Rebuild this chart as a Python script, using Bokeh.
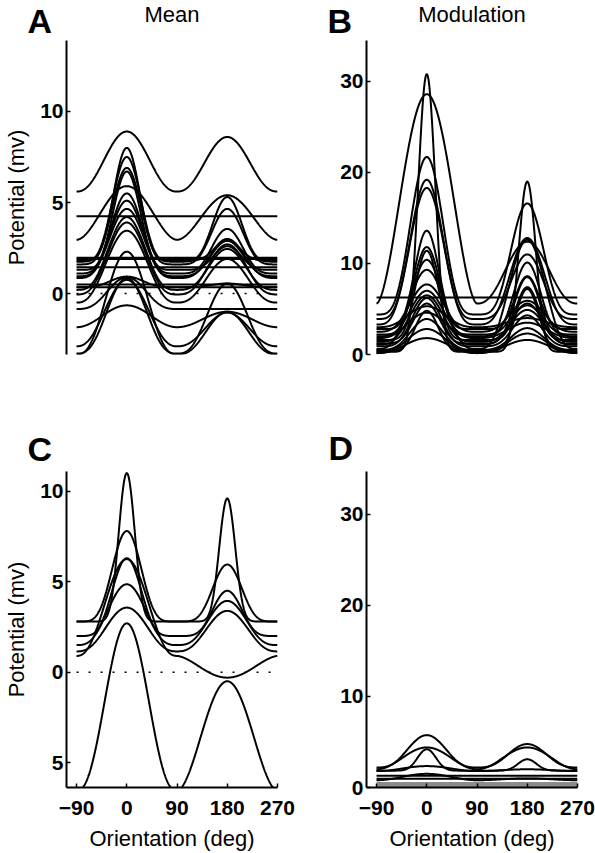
import numpy as np
from bokeh.plotting import figure
from bokeh.models import Range1d, FixedTicker
from bokeh.core.properties import value
from bokeh.layouts import column, row
from bokeh.embed import file_html
from bokeh.resources import INLINE

# ---------------- data ----------------
x_ticks = [-90, 0, 90, 180, 270]
y_ticks_mean = [-5, 0, 5, 10]
y_ticks_mod = [0, 10, 20, 30]
panel_letters = ["A", "B", "C", "D"]
panel_titles = ["Mean", "Modulation"]

# each curve: value at +-90 deg (base), peak at 0 deg, peak at 180 deg, sharpness of each peak
A_base    = [5.6, 4.25, 2.95, 1.97, 1.90, 1.80, 1.75, 1.60, 1.30, 1.10, 0.95, 0.85, 0.20, -0.05, -0.50, 1.45, 0.50, 0.35, 0.35, -0.85, -1.85, -2.90, -3.30, -3.35]
A_peak0   = [8.9, 4.25, 5.9, 1.97, 1.90, 8.0, 7.5, 6.9, 6.7, 5.5, 5.1, 4.65, 4.2, 3.9, 3.45, 1.45, 0.50, 0.35, 0.93, 0.9, -0.65, 0.75, 0.85, 2.3]
A_peak180 = [8.6, 4.25, 5.4, 1.97, 1.90, 2.9, 5.3, 4.65, 2.6, 3.55, 2.9, 3.0, 2.45, 2.7, 1.9, 1.45, 0.50, 0.35, 0.55, -0.85, -1.0, -1.05, 0.55, -1.0]
A_n0      = [1.15, 1, 0.9, 1, 1, 3.0, 2.6, 2.5, 2.8, 2.2, 2.0, 1.8, 1.6, 1.5, 1.3, 1, 1, 1, 2.0, 1.5, 1.0, 1.2, 1.4, 1.3]
A_n180    = [1.15, 1, 0.9, 1, 1, 3.0, 2.5, 2.2, 2.8, 2.2, 2.0, 1.8, 1.6, 1.5, 1.3, 1, 1, 1, 2.0, 1.0, 1.0, 1.2, 1.4, 1.3]

B_base    = [0.3, 5.6, 4.4, 3.9, 3.3, 2.8, 2.2, 1.6, 1.1, 0.6, 2.5, 2.0, 1.4, 0.9, 3.0, 1.8, 0.5, 0.2, 0.15, 6.25, 1.2, 0.4]
B_peak0   = [30.8, 28.6, 21.7, 19.2, 18.3, 13.6, 11.8, 11.4, 10.4, 9.3, 7.7, 7.0, 6.5, 6.2, 5.3, 4.6, 3.9, 2.8, 1.8, 6.25, 5.6, 4.8]
B_peak180 = [19.0, 12.4, 16.6, 11.0, 12.8, 8.6, 10.1, 7.4, 5.6, 12.6, 5.9, 5.4, 4.9, 4.3, 4.0, 3.5, 2.9, 2.3, 1.6, 6.25, 8.5, 7.2]
B_n0      = [7.0, 0.85, 2.0, 2.0, 1.8, 3.5, 3.0, 4.0, 2.2, 1.6, 1.8, 2.0, 2.0, 2.5, 1.5, 1.5, 2.0, 1.5, 1.2, 1, 3.0, 4.0]
B_n180    = [7.0, 1.2, 2.0, 2.0, 1.8, 3.5, 3.0, 4.0, 2.2, 1.6, 1.8, 2.0, 2.0, 2.5, 1.5, 1.5, 2.0, 1.5, 1.2, 1, 3.0, 4.0]

C_base    = [2.8, 2.8, 2.0, 0.9, 1.5, 1.15, -6.55]
C_peak0   = [11.0, 7.8, 6.3, 6.25, 4.86, 3.57, 2.7]
C_peak180 = [9.6, 5.95, 4.5, -0.3, 3.94, 3.39, -0.5]
C_n0      = [8.0, 2.5, 2.5, 1.2, 1.5, 1.3, 1.2]
C_n180    = [8.0, 2.5, 2.5, 0.8, 1.5, 1.3, 0.9]

D_base    = [2.2, 2.0, 1.85, 1.8, 0.8, 1.3, 0.95]
D_peak0   = [5.75, 4.4, 4.2, 2.35, 1.5, 1.3, 0.95]
D_peak180 = [4.77, 4.4, 3.1, 2.0, 1.0, 1.3, 0.95]
D_n0      = [1.5, 1.0, 6.0, 1.0, 1.0, 1, 1]
D_n180    = [1.5, 1.0, 6.0, 1.0, 1.0, 1, 1]
D_gray    = [0.45, 0.18]   # grey bundle of near-zero curves

theta = np.linspace(-90, 270, 721)


def curves(base, p0, p180, n0, n180):
    c = np.abs(np.cos(np.radians(theta)))
    first = theta <= 90
    ys = []
    for b, a, c2, k0, k1 in zip(base, p0, p180, n0, n180):
        y = np.where(first, b + (a - b) * c ** (2 * k0), b + (c2 - b) * c ** (2 * k1))
        ys.append(y.tolist())
    return [theta.tolist()] * len(ys), ys


FONT = "Liberation Sans"
X_RANGE = (-108, 270)
FW = 211
PAGE_W = 595


def make_fig(yr, fh, left, right, bottom, show_x, ylabel, yticks):
    p = figure(output_backend="svg", toolbar_location=None,
               frame_width=FW, frame_height=fh,
               min_border_left=left, min_border_right=right,
               min_border_top=0, min_border_bottom=bottom,
               x_range=Range1d(*X_RANGE), y_range=Range1d(*yr))
    p.outline_line_color = None
    p.grid.visible = False
    p.background_fill_color = "white"
    p.border_fill_color = "white"
    for ax in (p.xaxis, p.yaxis):
        ax.axis_line_width = 2
        ax.axis_line_color = "black"
        ax.major_tick_line_width = 1.5
        ax.major_tick_in = 4
        ax.major_tick_out = 0
        ax.minor_tick_line_color = None
        ax.major_label_text_font = FONT
        ax.major_label_text_font_size = "21px"
        ax.major_label_text_font_style = "bold"
        ax.major_label_text_color = "black"
        ax.axis_label_text_font = FONT
        ax.axis_label_text_font_size = "22px"
        ax.axis_label_text_font_style = "normal"
        ax.axis_label_text_color = "black"
    p.yaxis.ticker = FixedTicker(ticks=yticks)
    p.yaxis.major_label_standoff = 3
    if ylabel:
        p.yaxis.axis_label = ylabel
        p.yaxis.axis_label_standoff = 8
    p.xaxis.ticker = FixedTicker(ticks=x_ticks)
    if show_x:
        p.xaxis.axis_label = "Orientation (deg)"
        p.xaxis.major_label_standoff = 13
        p.xaxis.axis_label_standoff = 8
    else:
        p.xaxis.visible = False
    return p


def make_header(h):
    # a strip above a row of panels, in pixel coordinates (y downward)
    p = figure(output_backend="svg", toolbar_location=None,
               frame_width=PAGE_W, frame_height=h, min_border=0,
               x_range=Range1d(0, PAGE_W), y_range=Range1d(h, 0),
               x_axis_type=None, y_axis_type=None)
    p.outline_line_color = None
    p.grid.visible = False
    p.background_fill_color = "white"
    p.border_fill_color = "white"
    return p


def letters(p, xs, ys, texts):
    p.text(x=xs, y=ys, text=texts, text_font=value(FONT), text_font_size=value("34px"),
           text_font_style="bold", text_align="left", text_baseline="middle",
           text_color="black")


def titles(p, xs, ys, texts):
    p.text(x=xs, y=ys, text=texts, text_font=value(FONT), text_font_size=value("22px"),
           text_font_style="normal", text_align="center", text_baseline="middle",
           text_color="black")


# ---------------- header of the top row ----------------
h1 = make_header(40)
letters(h1, [27, 327], [20, 20], panel_letters[:2])
titles(h1, [171.5, 471.5], [14, 14], panel_titles)

# ---------------- Panel A ----------------
yrA = (-3.35, 13.9)
pA = make_fig(yrA, 314, 66, 23, 46, False, "Potential (mv)", y_ticks_mean)
pA.line([-90, 270], [0, 0], line_color="black", line_width=1.6, line_dash="2 10")
xs, ys = curves(A_base, A_peak0, A_peak180, A_n0, A_n180)
pA.multi_line(xs, ys, line_color="black", line_width=2)

# ---------------- Panel B ----------------
yrB = (0, 34.5)
pB = make_fig(yrB, 314, 66, 18, 46, False, None, y_ticks_mod)
xs, ys = curves(B_base, B_peak0, B_peak180, B_n0, B_n180)
pB.multi_line(xs, ys, line_color="black", line_width=2)

# ---------------- header of the bottom row ----------------
h2 = make_header(71)
letters(h2, [27, 328], [48, 47], panel_letters[2:])

# ---------------- Panel C ----------------
yrC = (-6.37, 11.09)
pC = make_fig(yrC, 316, 66, 23, 66, True, "Potential (mv)", y_ticks_mean)
pC.yaxis.major_label_overrides = {-5: "5"}
pC.line([-90, 270], [0, 0], line_color="black", line_width=1.6, line_dash="2 10")
xs, ys = curves(C_base, C_peak0, C_peak180, C_n0, C_n180)
pC.multi_line(xs, ys, line_color="black", line_width=2)

# ---------------- Panel D ----------------
yrD = (0, 34.7)
pD = make_fig(yrD, 316, 66, 18, 66, True, None, y_ticks_mod)
for g in D_gray:
    pD.line([-90, 270], [g, g], line_color="#8c8c8c", line_width=3)
xs, ys = curves(D_base, D_peak0, D_peak180, D_n0, D_n180)
pD.multi_line(xs, ys, line_color="black", line_width=2)

layout = column(h1, row(pA, pB), h2, row(pC, pD))
open("out.html", "w").write(file_html(layout, INLINE))
